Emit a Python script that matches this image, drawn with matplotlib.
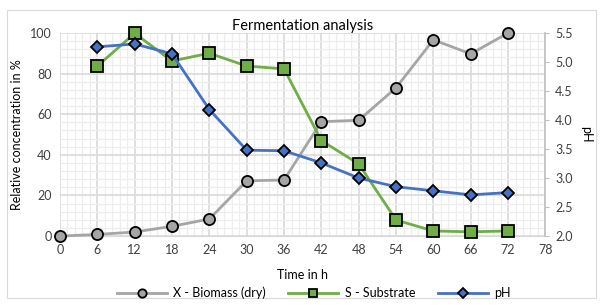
import matplotlib
matplotlib.use('Agg')
import matplotlib.pyplot as plt
from matplotlib.patches import Rectangle
from matplotlib.ticker import MultipleLocator

plt.rcParams['font.family'] = ['Lato', 'DejaVu Sans']

# -------------------------------
# Data
# -------------------------------
time_h = [0, 6, 12, 18, 24, 30, 36, 42, 48, 54, 60, 66, 72]
biomass = [0, 0.8, 2.0, 4.8, 8.4, 27.2, 27.6, 56.3, 57.0, 73.0, 96.6, 89.7, 100]
time_s = [6, 12, 18, 24, 30, 36, 42, 48, 54, 60, 66, 72]
substrate = [83.7, 99.8, 86.2, 90.0, 83.7, 82.3, 47.0, 35.5, 7.9, 2.5, 2.1, 2.5]
ph = [5.26, 5.31, 5.14, 4.18, 3.48, 3.47, 3.26, 3.00, 2.85, 2.78, 2.71, 2.75]
ph_ticks = [2.0, 2.5, 3.0, 3.5, 4.0, 4.5, 5.0, 5.5]

grey = '#A5A5A5'
green = '#70AD47'
blue = '#4472C4'
txt = '#404040'

fig = plt.figure(figsize=(6.03, 3.05), dpi=100)
fig.patches.append(Rectangle((0.012, 0.023), 0.976, 0.945, transform=fig.transFigure,
                             fill=False, edgecolor='#D9D9D9', linewidth=0.8))

ax = fig.add_axes([0.0995, 0.226, 0.805, 0.666])
ax2 = ax.twinx()

ax.set_xlim(0, 78)
ax.set_ylim(0, 100)
ax2.set_ylim(2.0, 5.5)
ax.xaxis.set_major_locator(MultipleLocator(6))
ax.xaxis.set_minor_locator(MultipleLocator(1.2))
ax.yaxis.set_major_locator(MultipleLocator(20))
ax.yaxis.set_minor_locator(MultipleLocator(4))

ax.grid(which='major', color='#D9D9D9', linewidth=1.2)
ax.grid(which='minor', color='#EDEDED', linewidth=0.9)
ax.set_axisbelow(True)

for s in ['top', 'left']:
    ax.spines[s].set_visible(False)
    ax2.spines[s].set_visible(False)
ax.spines['right'].set_visible(False)
ax.spines['bottom'].set_color('#D9D9D9')
ax2.spines['bottom'].set_visible(False)
ax2.spines['right'].set_color('#BFBFBF')
ax2.spines['right'].set_linewidth(1.2)

ax.tick_params(which='both', length=0, labelsize=9, colors=txt, pad=6)
ax2.tick_params(axis='y', length=3, color='#BFBFBF', labelsize=9, labelcolor=txt, pad=4)
ax.set_xticks(range(0, 79, 6))
ax2.set_yticks(ph_ticks)
ax2.set_yticklabels(['%.1f' % v for v in ph_ticks])

l1, = ax.plot(time_h, biomass, color=grey, linewidth=2, marker='o', markersize=8,
              markerfacecolor=grey, markeredgecolor='black', markeredgewidth=1.3,
              label='X - Biomass (dry)', zorder=3, clip_on=False)
l2, = ax.plot(time_s, substrate, color=green, linewidth=2, marker='s', markersize=8,
              markerfacecolor=green, markeredgecolor='black', markeredgewidth=1.3,
              label='S - Substrate', zorder=3, clip_on=False)
l3, = ax2.plot(time_s, ph, color=blue, linewidth=2, marker='D', markersize=6.5,
               markerfacecolor=blue, markeredgecolor='black', markeredgewidth=1.3,
               label='pH', zorder=3, clip_on=False)

ax.set_title('Fermentation analysis', fontsize=10.5, color='black', pad=2)
ax.set_xlabel('Time in h', fontsize=9, color='black', labelpad=9)
ax.set_ylabel('Relative concentration in %', fontsize=9, color='black', labelpad=5)
ax2.set_ylabel('pH', fontsize=9, color='black', rotation=270, labelpad=14)

fig.legend(handles=[l1, l2, l3], loc='center', bbox_to_anchor=(0.52, 0.04), ncol=3,
           frameon=False, fontsize=9, handlelength=4.0, columnspacing=1.8,
           markerscale=0.75, handletextpad=0.5)

fig.savefig('out.png', dpi=100)
plt.close(fig)
